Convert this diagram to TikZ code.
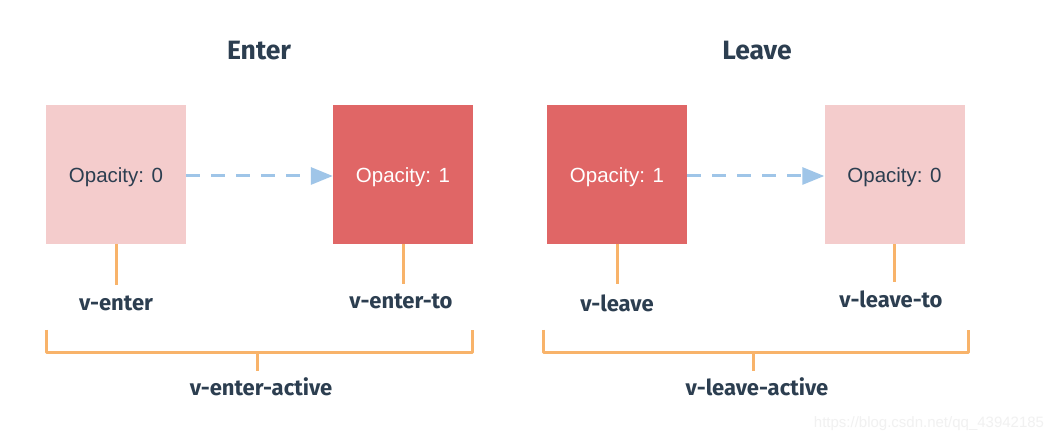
\documentclass[tikz,border=0pt]{standalone}
\usepackage{fontspec}
\setmainfont{Liberation Sans}
\newfontfamily\labfont{Fira Sans}
\usetikzlibrary{arrows.meta}
\definecolor{lightpink}{HTML}{F4CCCC}
\definecolor{redbox}{HTML}{E06666}
\definecolor{arrowblue}{HTML}{9FC5E8}
\definecolor{lineorange}{HTML}{F8B36A}
\definecolor{darktext}{HTML}{2C3E50}
\definecolor{wm}{HTML}{F1F1F1}
\tikzset{
  box/.style={minimum width=140pt, minimum height=139pt, inner sep=0pt, draw=none,
    font=\fontsize{20.5}{24}\selectfont},
  lightbox/.style={box, fill=lightpink, text=darktext},
  darkbox/.style={box, fill=redbox, text=white},
  boxtext/.style={inner sep=0pt, font=\fontsize{20.5}{24}\selectfont},
  flow/.style={draw=arrowblue, line width=3pt, dash pattern=on 14pt off 11pt,
    -{Triangle[length=22pt,width=17pt]}},
  tick/.style={draw=lineorange, line width=3pt},
  lab/.style={text=darktext, inner sep=0pt, font=\labfont\bfseries\fontsize{22}{26}\selectfont},
  title/.style={text=darktext, inner sep=0pt, font=\labfont\bfseries\fontsize{26.5}{30}\selectfont}
}
\begin{document}
\begin{tikzpicture}[x=1pt,y=-1pt]
\useasboundingbox (0,0) rectangle (1061,443);
\fill[white] (0,0) rectangle (1061,443);

\node[title] (tenter) at (259,51) {Enter};
\node[title] (tleave) at (757,51) {Leave};

\node[lightbox] (b1) at (116,174.5) {};
\node[darkbox]  (b2) at (403,174.5) {};
\node[darkbox]  (b3) at (617,174.5) {};
\node[lightbox] (b4) at (894.5,174.5) {};
\node[boxtext, text=darktext] (t1) at (116,177) {Opacity: 0};
\node[boxtext, text=white] (t2) at (403,177) {Opacity: 1};
\node[boxtext, text=white] (t3) at (617,177) {Opacity: 1};
\node[boxtext, text=darktext] (t4) at (894.5,177) {Opacity: 0};

\coordinate (f1) at (b1.east |- 0,176);
\coordinate (f2) at (b2.west |- 0,176);
\coordinate (f3) at (b3.east |- 0,176);
\coordinate (f4) at (b4.west |- 0,176);
\draw[flow] (f1) -- (f2);
\draw[flow] (f3) -- (f4);

\coordinate (e1) at (116,285);
\coordinate (e2) at (403,284);
\coordinate (e3) at (617,284);
\coordinate (e4) at (894,282);
\draw[tick] (b1.south -| e1) -- (e1);
\draw[tick] (b2.south -| e2) -- (e2);
\draw[tick] (b3.south -| e3) -- (e3);
\draw[tick] (b4.south -| e4) -- (e4);

\node[lab] (l1) at (116,303) {v-enter};
\node[lab] (l2) at (401,301) {v-enter-to};
\node[lab] (l3) at (617,303) {v-leave};
\node[lab] (l4) at (891,299) {v-leave-to};

\coordinate (ba1) at (46,330);
\coordinate (ba2) at (472,330);
\coordinate (bm1) at (257,353);
\coordinate (bt1) at (257,371);
\draw[tick, line join=round] (ba1) -- (ba1 |- bm1) -- (ba2 |- bm1) -- (ba2);
\draw[tick] (bm1) -- (bt1);
\node[lab] (a1) at (261,387) {v-enter-active};

\coordinate (bb1) at (543,330);
\coordinate (bb2) at (968,330);
\coordinate (bm2) at (753,353);
\coordinate (bt2) at (753,371);
\draw[tick, line join=round] (bb1) -- (bb1 |- bm2) -- (bb2 |- bm2) -- (bb2);
\draw[tick] (bm2) -- (bt2);
\node[lab] (a2) at (757,387) {v-leave-active};

\node[text=wm, inner sep=0pt, font=\fontsize{15}{18}\selectfont] (wmk) at (929,424) {https://blog.csdn.net/qq\_43942185};
\end{tikzpicture}
\end{document}
